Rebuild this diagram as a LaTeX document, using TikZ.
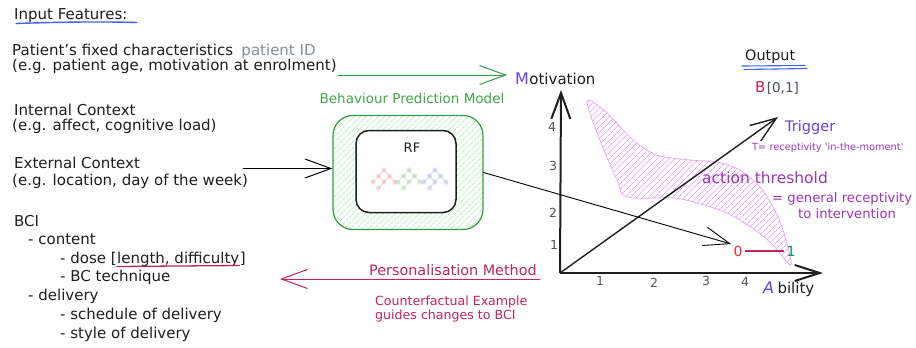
\documentclass[tikz,border=0pt]{standalone}
\usepackage{fontspec}
\setmainfont{DejaVu Sans}
\usetikzlibrary{arrows.meta,patterns.meta}
\definecolor{inkblack}{HTML}{1E1E1E}
\definecolor{ulblue}{HTML}{4263EB}
\definecolor{exgreen}{HTML}{2F9E44}
\definecolor{txtgreen}{HTML}{40A84A}
\definecolor{hatchgreen}{HTML}{8CE99A}
\definecolor{crimson}{HTML}{C2255C}
\definecolor{violet}{HTML}{9C36B5}
\definecolor{hatchviolet}{HTML}{DA77F2}
\definecolor{blobline}{HTML}{E3A6F0}
\definecolor{indigo}{HTML}{6741D9}
\definecolor{idgrey}{HTML}{868E96}
\definecolor{tickgrey}{HTML}{555555}
\definecolor{bracketgrey}{HTML}{495057}
\definecolor{zeroRed}{HTML}{E03131}
\definecolor{oneTeal}{HTML}{099268}
\definecolor{treeRed}{HTML}{E8A0A8}
\definecolor{treeGreen}{HTML}{A8C8A0}
\definecolor{treeBlue}{HTML}{A8B0D8}
\newcommand{\minitree}[3]{%
  \begin{scope}[shift={(#1,#2)},opacity=0.4]
    \draw[#3,line width=0.8pt] (0,0) -- (-5.5,6) -- (-11,12);
    \draw[#3,line width=0.8pt] (0,0) -- (5.5,6) -- (0,12) -- (-5.5,18);
    \draw[#3,line width=0.8pt] (-5.5,6) -- (0,12);
    \draw[#3,line width=0.8pt] (5.5,6) -- (11,12);
    \foreach \p in {(0,0),(-5.5,6),(5.5,6),(-11,12),(0,12),(11,12),(-5.5,18)}
      \fill[#3] \p circle (2.6pt);
  \end{scope}}
\begin{document}
\begin{tikzpicture}[x=1pt,y=-1pt,
  exbarb/.tip={Straight Barb[length=26pt,width=19pt]},
  txt/.style={anchor=base west,inner sep=0pt,text=inkblack,font=\fontsize{15}{18}\selectfont},
  conn/.style={line width=1pt,-exbarb,line cap=round},
  tick/.style={inner sep=0pt,text=tickgrey,font=\fontsize{12.5}{14}\selectfont},
  hatchbox/.style={pattern={Lines[angle=45,distance=4pt,line width=0.5pt]}},
]
\useasboundingbox (0,0) rectangle (916,348);
\fill[white] (0,0) rectangle (916,348);

% ---------- hatched threshold region ----------
\draw[blobline,line width=0.7pt,hatchbox,pattern color=hatchviolet]
  plot[smooth cycle,tension=0.55] coordinates {(587,101) (607,113) (633,140) (657,155)
  (690,160) (717,162) (740,170) (760,187) (772,205) (783,230) (791,265)
  (772,244) (752,228) (727,213) (697,203) (673,198) (627,197) (617,180) (600,140)};

% ---------- left column: input features ----------
\node[txt] (inp) at (14,19.5) {Input Features:};
\draw[ulblue,line width=1.4pt,line cap=round] (16,23.5) .. controls (60,22) and (100,21.5) .. (137,22.5);

\node[txt] (pat1) at (12,55) {Patient's fixed characteristics};
\node[txt,text=idgrey,xshift=8pt] (patid) at (pat1.base east) {patient ID};
\node[txt] (pat2) at (12,70.5) {(e.g. patient age, motivation at enrolment)};
\node[txt] (int1) at (14,115) {Internal Context};
\node[txt] (int2) at (12,130.5) {(e.g. affect, cognitive load)};
\node[txt] (ext1) at (14,168.5) {External Context};
\node[txt] (ext2) at (12,185) {(e.g. location, day of the week)};
\node[txt] (bci) at (14,226) {BCI};
\node[txt] (cont) at (28,244.5) {- content};
\node[txt] (dose) at (60,263) {- dose [};
\node[txt] (dlen) at (dose.base east) {length, difficulty};
\node[txt] (dend) at (dlen.base east) {]};
\draw[crimson,line width=1.3pt,line cap=round] ([yshift=-3.5pt]dlen.base west) -- ([yshift=-2.5pt]dlen.base east);
\node[txt] (bct) at (60,281.5) {- BC technique};
\node[txt] (deliv) at (28,300.5) {- delivery};
\node[txt] (sched) at (60,319.5) {- schedule of delivery};
\node[txt] (style) at (60,338) {- style of delivery};

% ---------- behaviour prediction model ----------
\node[draw=exgreen,line width=1.2pt,rounded corners=20pt,hatchbox,pattern color=hatchgreen,
  minimum width=150pt,minimum height=114pt,inner sep=0pt] (bpm) at (408,172.5) {};
\node[draw=inkblack,line width=1.5pt,fill=white,rounded corners=13pt,
  minimum width=100pt,minimum height=82pt,inner sep=0pt] (rfbox) at (406,171.5) {};
\node[inner sep=0pt,text=inkblack,font=\fontsize{13}{15}\selectfont] (rf) at (412,148) {RF};
\minitree{384}{170}{treeRed}
\minitree{409}{170}{treeGreen}
\minitree{435}{170}{treeBlue}
\node[anchor=base,inner sep=0pt,text=txtgreen,font=\fontsize{13.5}{16}\selectfont] (bpmlbl) at (412,103) {Behaviour Prediction Model};

\coordinate (extstart) at (243,168.5);
\draw[conn] (extstart) -- (extstart -| bpm.west);

% ---------- axes ----------
\coordinate (origin) at (560,273);
\coordinate (ytop) at (561,90);
\coordinate (xend) at (823,273);
\draw[line width=2pt,inkblack,-{Straight Barb[length=26pt,width=19pt]}] (origin) -- (ytop);
\draw[line width=2pt,inkblack,-{Straight Barb[length=25pt,width=16pt]}] (origin) -- (xend);

\node[txt,text=indigo,font=\fontsize{16}{18}\selectfont] (mM) at (515,84) {M};
\node[txt] (mot) at (mM.base east) {otivation};
\node[txt,text=indigo,font=\fontsize{16}{18}\selectfont\itshape] (aA) at (763,293) {A};
\node[txt,xshift=3pt] (abil) at (aA.base east) {bility};

\node[tick] (y4) at (552,127) {4};
\node[tick] (y3) at (553,166) {3};
\node[tick] (y2) at (553,213) {2};
\node[tick] (y1) at (554,245) {1};
\node[tick] (x1) at (600,281) {1};
\node[tick] (x2) at (654,283) {2};
\node[tick] (x3) at (706,281) {3};
\node[tick] (x4) at (745,282) {4};

% ---------- green arrow to motivation ----------
\coordinate (gstart) at (338,75);
\draw[conn,exgreen] (gstart) -- (gstart -| mM.west) [shorten >=8pt];

% ---------- trigger ----------
\coordinate (trigtip) at (778,117);
\draw[line width=1.4pt,inkblack,-exbarb] (origin) -- (trigtip);
\node[anchor=base west,inner sep=0pt,text=indigo,font=\fontsize{14.5}{17}\selectfont] (trig) at (785,131) {Trigger};
\node[anchor=base west,inner sep=0pt,text=violet,font=\fontsize{9.8}{11}\selectfont] (trigdef) at (752,150) {T= receptivity \textquotesingle in-the-moment\textquotesingle};

% ---------- output ----------
\node[anchor=base west,inner sep=0pt,text=inkblack,font=\fontsize{14.4}{17}\selectfont] (outp) at (745,60.5) {Output};
\draw[ulblue,line width=1.1pt,line cap=round] (742,66) -- (805,65.5);
\draw[ulblue,line width=1.1pt,line cap=round] (744,69.5) -- (807,68.5);
\node[anchor=base west,inner sep=0pt,text=crimson,font=\fontsize{15}{17}\selectfont] (bB) at (755,92.5) {B};
\node[anchor=base west,inner sep=0pt,text=bracketgrey,font=\fontsize{13.5}{16}\selectfont,xshift=1pt] (b01) at (bB.base east) {[0,1]};

% ---------- threshold labels ----------
\node[anchor=base west,inner sep=0pt,text=violet,font=\fontsize{15.5}{18}\selectfont] (act) at (702,183) {action threshold};
\node[anchor=base west,inner sep=0pt,text=violet,font=\fontsize{13.2}{16}\selectfont] (gen1) at (772,202) {= general receptivity};
\node[anchor=base west,inner sep=0pt,text=violet,font=\fontsize{13.2}{16}\selectfont] (gen2) at (798,218) {to intervention};

% ---------- 0 - 1 output scale ----------
\node[inner sep=2pt,text=zeroRed,font=\fontsize{14}{16}\selectfont] (zero) at (738,251) {0};
\node[inner sep=2pt,text=oneTeal,font=\fontsize{14}{16}\selectfont] (one) at (791,251) {1};
\draw[crimson,line width=1.5pt] (zero.east) -- (one.west);
\coordinate (zerotip) at (731,244);
\draw[conn,line width=0.9pt] (bpm.east) -- (zerotip);

% ---------- personalisation ----------
\coordinate (pstart) at (540,279);
\coordinate (ptip) at (280,279);
\draw[conn,crimson] (pstart) -- (ptip);
\node[anchor=base east,inner sep=0pt,text=crimson,font=\fontsize{14.4}{17}\selectfont] (pers) at (537,275) {Personalisation Method};
\node[anchor=base west,inner sep=0pt,text=crimson,font=\fontsize{12.6}{15}\selectfont] (cf1) at (375,305) {Counterfactual Example};
\node[anchor=base west,inner sep=0pt,text=crimson,font=\fontsize{12.6}{15}\selectfont] (cf2) at (375,319.5) {guides changes to BCI};
\end{tikzpicture}
\end{document}
